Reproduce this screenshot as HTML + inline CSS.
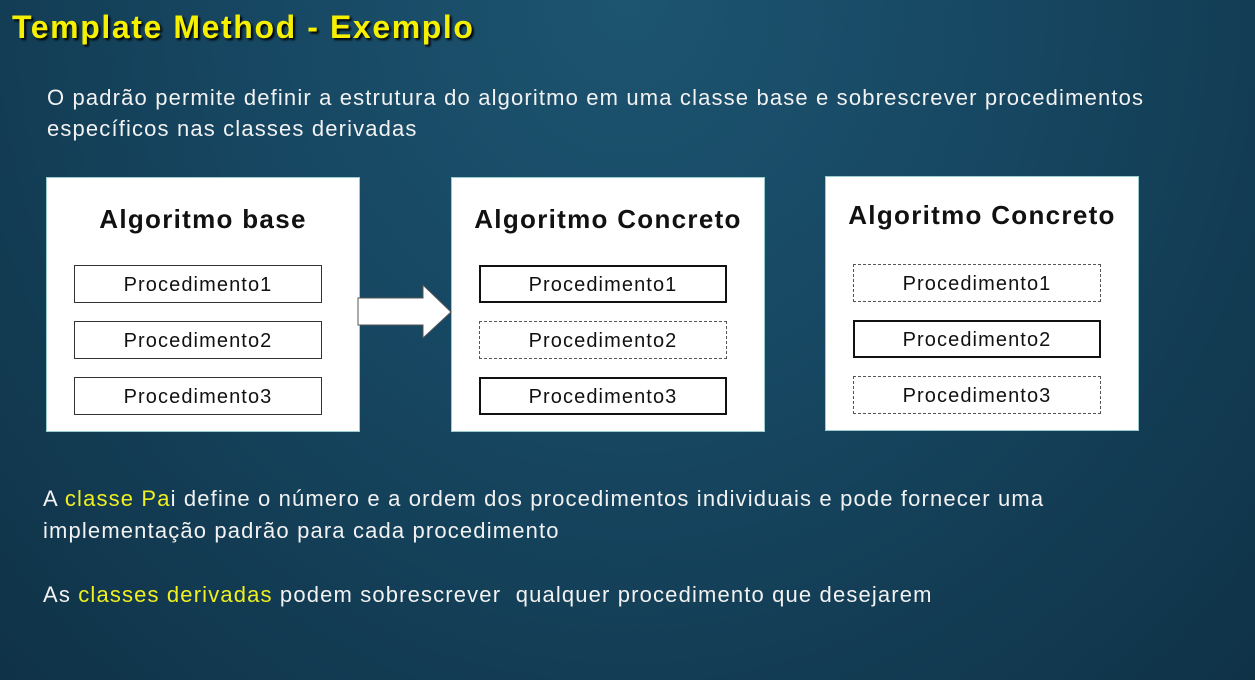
<!DOCTYPE html>
<html><head><style>
body{margin:0;width:1255px;height:680px;overflow:hidden;background:radial-gradient(ellipse at 50% 0%,#1d5470 0%,#174863 40%,#0f3247 100%);font-family:"Liberation Sans",sans-serif;position:relative}
.t{position:absolute;color:#fff;white-space:nowrap}
.title{left:12px;top:9px;font-size:32px;font-weight:bold;color:#f5f000;text-shadow:2px 2px 2px #000;letter-spacing:1.6px}
.p{font-size:22px;color:#f2f2f2;letter-spacing:1.15px}
.y{color:#f0f020}
.box{position:absolute;background:#fff;border:1px solid #9cc;width:312px;height:253px}
.box h{position:absolute;left:0;right:0;text-align:center;font-size:26px;font-weight:bold;color:#111;letter-spacing:1.3px}
.ib{position:absolute;left:27px;width:246px;height:36px;border:1px solid #333;text-align:center;line-height:38px;font-size:20px;color:#111;box-sizing:content-box;letter-spacing:1.1px}
.th{border:2px solid #111;width:244px;height:34px;line-height:36px}
.d{border:1px dashed #555}
</style></head><body>
<div class="t title">Template Method - Exemplo</div>
<div class="t p" style="left:47px;top:85px">O padrão permite definir a estrutura do algoritmo em uma classe base e sobrescrever procedimentos</div>
<div class="t p" style="left:47px;top:116px">específicos nas classes derivadas</div>

<div class="box" style="left:46px;top:177px"><h style="top:26px">Algoritmo base</h>
<div class="ib" style="top:87px">Procedimento1</div>
<div class="ib" style="top:143px">Procedimento2</div>
<div class="ib" style="top:199px">Procedimento3</div></div>

<div class="box" style="left:451px;top:177px"><h style="top:26px">Algoritmo Concreto</h>
<div class="ib th" style="top:87px">Procedimento1</div>
<div class="ib d" style="top:143px">Procedimento2</div>
<div class="ib th" style="top:199px">Procedimento3</div></div>

<div class="box" style="left:825px;top:176px"><h style="top:23px">Algoritmo Concreto</h>
<div class="ib d" style="top:87px">Procedimento1</div>
<div class="ib th" style="top:143px">Procedimento2</div>
<div class="ib d" style="top:199px">Procedimento3</div></div>

<svg style="position:absolute;left:0;top:0" width="1255" height="680"><polygon points="358,298 423,298 423,285 451,312 423,338 423,325 358,325" fill="#fff" stroke="#555" stroke-width="1"/></svg>

<div class="t p" style="left:43px;top:486px">A <span class="y">classe Pa</span>i define o número e a ordem dos procedimentos individuais e pode fornecer uma</div>
<div class="t p" style="left:43px;top:518px">implementação padrão para cada procedimento</div>
<div class="t p" style="left:43px;top:582px">As <span class="y">classes derivadas</span> podem sobrescrever&nbsp; qualquer procedimento que desejarem</div>
</body></html>
